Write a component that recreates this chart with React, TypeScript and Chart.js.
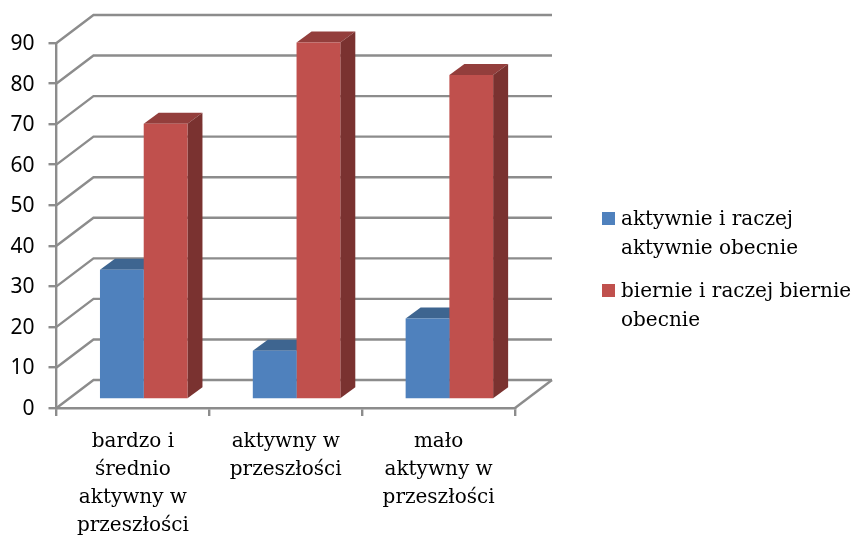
import React, { useEffect, useRef } from "react";
import { Chart, registerables } from "chart.js";

Chart.register(...registerables);

const categories = [
  ["bardzo i", "średnio", "aktywny w", "przeszłości"],
  ["aktywny w", "przeszłości"],
  ["mało", "aktywny w", "przeszłości"],
];
const activeNow = [32, 12, 20];
const passiveNow = [68, 88, 80];
const activeLabel = "aktywnie i raczej aktywnie obecnie";
const passiveLabel = "biernie i raczej biernie obecnie";
const activeLegendLines = ["aktywnie i raczej", "aktywnie obecnie"];
const passiveLegendLines = ["biernie i raczej biernie", "obecnie"];

const BLUE = "#4F81BD";
const RED = "#C0504D";
const BLUE_TOP = "#3E6590";
const RED_TOP = "#933E3C";
const BLUE_SIDE = "#2F5078";
const RED_SIDE = "#7A3230";
const GRID = "#8C8C8C";
const TEXT_FONT = "'DejaVu Serif', serif";
const NUM_FONT = "'Noto Sans', sans-serif";
const TEXT_SIZE = 20;

// 3D projection offsets
const WALL_DX = 37;
const WALL_DY = 28;
const BAR_SHIFT_X = 10.8;
const BAR_SHIFT_Y = -8.5;
const DEPTH_DX = 15;
const DEPTH_DY = 11;

const tops = [BLUE_TOP, RED_TOP];
const sides = [BLUE_SIDE, RED_SIDE];
const legendBlocks = [
  { lines: activeLegendLines, y: 212 },
  { lines: passiveLegendLines, y: 284 },
];

const poly = (ctx: CanvasRenderingContext2D, pts: number[][], fill: string) => {
  ctx.beginPath();
  pts.forEach(([x, y], i) => (i ? ctx.lineTo(x, y) : ctx.moveTo(x, y)));
  ctx.closePath();
  ctx.fillStyle = fill;
  ctx.fill();
};

const threeD = {
  id: "threeD",
  beforeDatasetsDraw(chart: any) {
    const { ctx, scales, chartArea } = chart;
    const yS = scales.y;
    ctx.save();
    ctx.strokeStyle = GRID;
    ctx.lineWidth = 2.4;
    yS.ticks.forEach((t: any) => {
      const y = yS.getPixelForValue(t.value);
      ctx.beginPath();
      ctx.moveTo(chartArea.left, y);
      ctx.lineTo(chartArea.left + WALL_DX, y - WALL_DY);
      ctx.lineTo(chartArea.right + WALL_DX, y - WALL_DY);
      ctx.stroke();
    });
    const y0 = yS.getPixelForValue(0);
    ctx.beginPath();
    ctx.moveTo(chartArea.right, y0);
    ctx.lineTo(chartArea.right + WALL_DX, y0 - WALL_DY);
    ctx.stroke();
    chart.data.datasets.forEach((_: any, di: number) => {
      chart.getDatasetMeta(di).data.forEach((bar: any) => {
        const l = bar.x - bar.width / 2 + BAR_SHIFT_X;
        const r = bar.x + bar.width / 2 + BAR_SHIFT_X;
        const t = bar.y + BAR_SHIFT_Y;
        const b = bar.base + BAR_SHIFT_Y;
        poly(ctx, [[l, t], [r, t], [r + DEPTH_DX, t - DEPTH_DY], [l + DEPTH_DX, t - DEPTH_DY]], tops[di]);
        poly(ctx, [[r, t], [r + DEPTH_DX, t - DEPTH_DY], [r + DEPTH_DX, b - DEPTH_DY], [r, b]], sides[di]);
      });
    });
    ctx.restore();
  },
  beforeDatasetDraw(chart: any) {
    chart.ctx.save();
    chart.ctx.translate(BAR_SHIFT_X, BAR_SHIFT_Y);
  },
  afterDatasetDraw(chart: any) {
    chart.ctx.restore();
  },
  afterDraw(chart: any) {
    const { ctx } = chart;
    ctx.save();
    ctx.textBaseline = "alphabetic";
    ctx.textAlign = "left";
    legendBlocks.forEach((block, i) => {
      ctx.fillStyle = chart.data.datasets[i].backgroundColor;
      ctx.fillRect(602, block.y, 13, 13);
      ctx.fillStyle = "#000";
      ctx.font = `${TEXT_SIZE}px ${TEXT_FONT}`;
      block.lines.forEach((line, j) => ctx.fillText(line, 621, block.y + 13 + j * 28.5));
    });
    ctx.restore();
  },
};

export default function App() {
  const ref = useRef<HTMLCanvasElement>(null);
  useEffect(() => {
    document.body.style.margin = "0";
    const chart = new Chart(ref.current!, {
      type: "bar",
      data: {
        labels: categories,
        datasets: [
          { label: activeLabel, data: activeNow, backgroundColor: BLUE, clip: false },
          { label: passiveLabel, data: passiveNow, backgroundColor: RED, clip: false },
        ],
      } as any,
      options: {
        responsive: false,
        animation: false,
        layout: { padding: { top: 43, right: 338, left: 0, bottom: 0 } },
        plugins: { legend: { display: false }, tooltip: { enabled: false } },
        datasets: { bar: { categoryPercentage: 0.5725, barPercentage: 1 } },
        scales: {
          x: {
            afterFit: (s: any) => { s.height = 127; },
            grid: { drawOnChartArea: false, color: GRID, lineWidth: 2.4, tickLength: 8 },
            border: { color: GRID, width: 2.4 },
            ticks: {
              color: "#000",
              maxRotation: 0,
              autoSkip: false,
              padding: 12,
              font: { family: TEXT_FONT, size: TEXT_SIZE, lineHeight: 28 / TEXT_SIZE },
            },
          },
          y: {
            min: 0,
            max: 90,
            afterFit: (s: any) => { s.width = 56.5; },
            grid: { drawOnChartArea: false, color: GRID, lineWidth: 2.4, tickLength: 8 },
            border: { color: GRID, width: 2.4 },
            ticks: {
              color: "#000",
              stepSize: 10,
              padding: 14,
              labelOffset: 1,
              font: { family: NUM_FONT, size: 21 },
            },
          },
        },
      } as any,
      plugins: [threeD],
    });
    return () => chart.destroy();
  }, []);
  return <canvas ref={ref} width={853} height={535} style={{ display: "block" }} />;
}
